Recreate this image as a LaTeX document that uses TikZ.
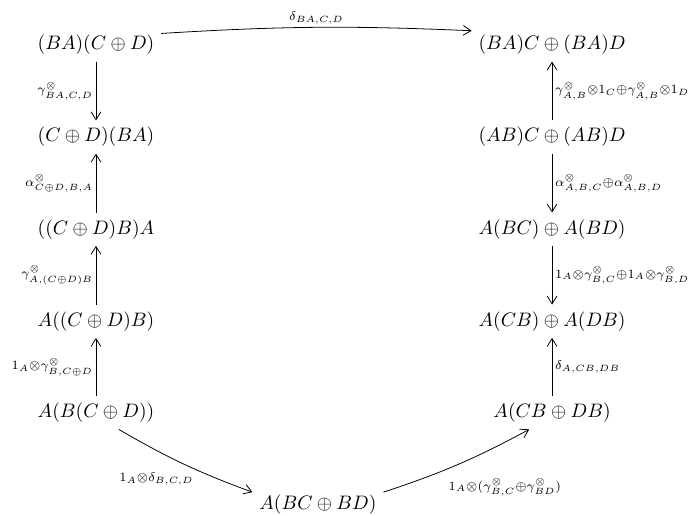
\documentclass[tikz,border=0pt]{standalone}
\usepackage{amsmath}
\usepackage{amssymb}
\usetikzlibrary{calc, arrows.meta}
\newcommand\gmo{\gamma^{\otimes}}
\newcommand\alo{\alpha^{\otimes}}
\newcommand\lb[1]{$\scriptstyle #1$}

\begin{document}
\begin{tikzpicture}[>={Straight Barb[length=4pt,width=5pt]}, lab/.style={inner sep=1.5pt, scale=.93}]
\useasboundingbox (0,0) rectangle (12.49,9.30);
% left column
\node (l1) at (1.73,8.49) {$(BA)(C\oplus D)$};
\node (l2) at (1.73,6.83) {$(C\oplus D)(BA)$};
\node (l3) at (1.73,5.17) {$((C\oplus D)B)A$};
\node (l4) at (1.73,3.51) {$A((C\oplus D)B)$};
\node (l5) at (1.73,1.86) {$A(B(C\oplus D))$};
% right column
\node (r1) at (9.95,8.49) {$(BA)C\oplus (BA)D$};
\node (r2) at (9.95,6.83) {$(AB)C\oplus (AB)D$};
\node (r3) at (9.95,5.17) {$A(BC)\oplus A(BD)$};
\node (r4) at (9.95,3.51) {$A(CB)\oplus A(DB)$};
\node (r5) at (9.95,1.86) {$A(CB\oplus DB)$};
% bottom
\node (b) at (5.73,0.20) {$A(BC\oplus BD)$};

\draw[->] (l1.10) to[bend left=3] node[midway,above,lab] {\lb{\delta_{BA,C,D}}} (r1.170);
\draw[->] (l1) -- (l2) node[midway,left,lab] {\lb{\gmo_{BA,C,D}}};
\draw[->] (l3) -- (l2) node[midway,left,lab] {\lb{\alo_{C\oplus D,B,A}}};
\draw[->] (l4) -- (l3) node[midway,left,lab] {\lb{\gmo_{A,(C\oplus D)B}}};
\draw[->] (l5) -- (l4) node[midway,left,lab] {\lb{1_A\otimes\gmo_{B,C\oplus D}}};
\draw[->] (r2) -- (r1) node[midway,right,lab] {\lb{\gmo_{A,B}\otimes 1_C\oplus\gmo_{A,B}\otimes 1_D}};
\draw[->] (r2) -- (r3) node[midway,right,lab] {\lb{\alo_{A,B,C}\oplus\alo_{A,B,D}}};
\draw[->] (r3) -- (r4) node[midway,right,lab] {\lb{1_A\otimes\gmo_{B,C}\oplus 1_A\otimes\gmo_{B,D}}};
\draw[->] (r5) -- (r4) node[midway,right,lab] {\lb{\delta_{A,CB,DB}}};
\draw[->] (l5.-36) to[bend right=5] node[pos=.6,below left,lab] {\lb{1_A\otimes\delta_{B,C,D}}} (b.169);
\draw[->] (b.11) to[bend right=5] node[pos=.38,below right=2pt,lab] {\lb{1_A\otimes(\gmo_{B,C}\oplus\gmo_{BD})}} (r5.216);
\end{tikzpicture}
\end{document}
